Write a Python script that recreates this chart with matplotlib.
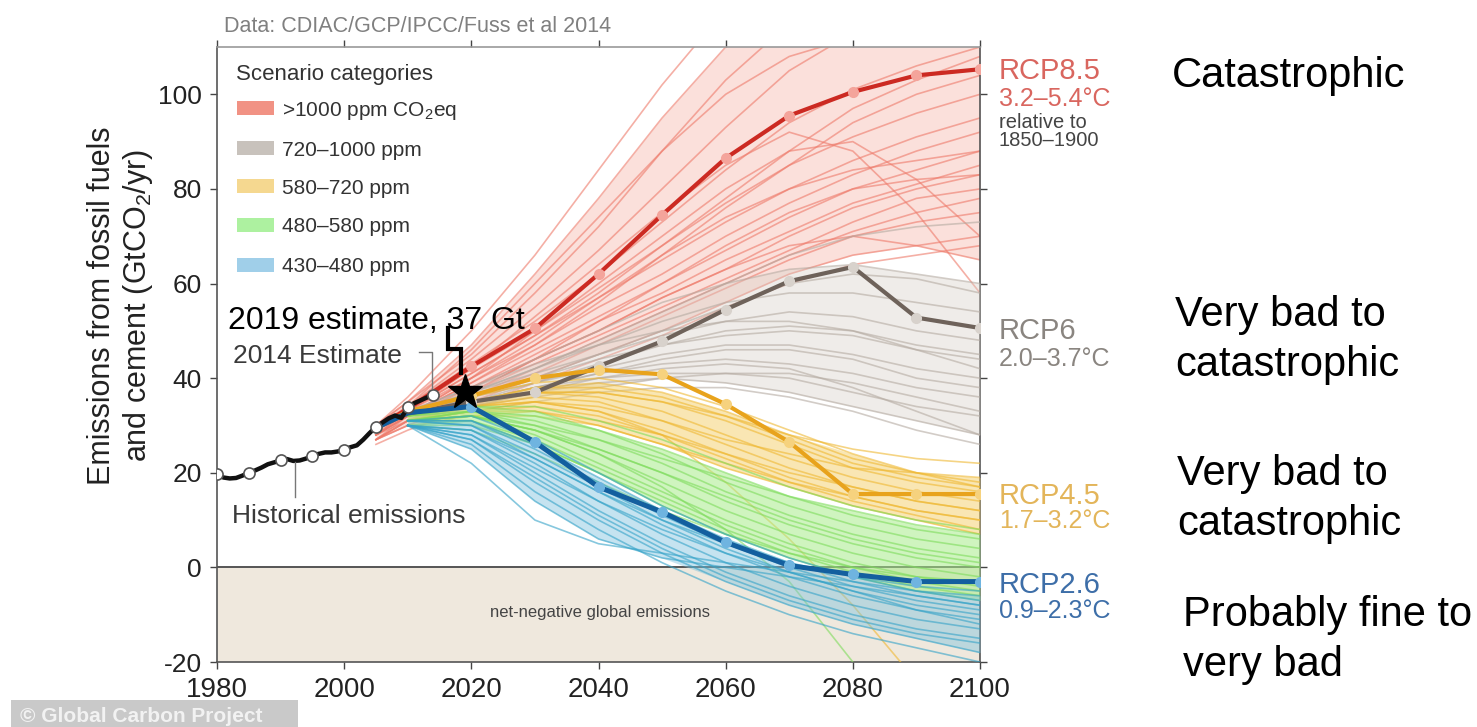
import numpy as np
import matplotlib
matplotlib.use("Agg")
import matplotlib.pyplot as plt
from matplotlib.patches import Rectangle

plt.rcParams['font.family'] = ['Liberation Sans', 'DejaVu Sans']
plt.rcParams['mathtext.fontset'] = 'custom'
plt.rcParams['mathtext.rm'] = 'Liberation Sans'
plt.rcParams['mathtext.it'] = 'Liberation Sans:italic'
plt.rcParams['mathtext.bf'] = 'Liberation Sans:bold'
plt.rcParams['axes.unicode_minus'] = False

W, H = 1477, 727

# ---- historical fossil + cement emissions (GtCO2/yr) ----
hist_years = list(range(1980, 2015))
hist_values = [19.8, 19.0, 18.8, 18.9, 19.4, 20.0, 20.5, 21.1, 21.8, 22.2,
               22.6, 22.9, 22.5, 22.6, 23.0, 23.6, 24.0, 24.3, 24.3, 24.5,
               24.9, 25.4, 25.8, 27.0, 28.4, 29.7, 30.6, 31.5, 32.1, 31.6,
               33.8, 34.7, 35.3, 35.9, 36.5]
hist_marker_years = [1980, 1985, 1990, 1995, 2000, 2005, 2010, 2014]

# ---- representative concentration pathways ----
rcp_years = [2005, 2010, 2020, 2030, 2040, 2050, 2060, 2070, 2080, 2090, 2100]
rcp85 = [29.5, 33.5, 42.5, 50.5, 62.0, 74.5, 86.5, 95.5, 100.5, 104.0, 105.3]
rcp60 = [29.5, 32.5, 35.0, 37.0, 42.5, 47.8, 54.5, 60.5, 63.5, 52.8, 50.6]
rcp45 = [29.5, 33.0, 36.3, 40.0, 41.8, 40.8, 34.5, 26.5, 15.5, 15.5, 15.5]
rcp26 = [29.5, 32.7, 34.0, 26.5, 17.0, 11.7, 5.3, 0.4, -1.5, -3.0, -3.0]

# ---- scenario ensembles by 2100 concentration category ----
red_years = [2005, 2010, 2020, 2030, 2040, 2050, 2060, 2070, 2080, 2090, 2100]
red_scenarios = [
    [30, 35, 47, 62, 78, 95, 110, 125, 135, 140, 145],
    [30, 35, 45, 58, 72, 88, 103, 115, 125, 132, 138],
    [29, 34, 44, 55, 67, 80, 93, 105, 113, 118, 122],
    [29, 34, 43, 52, 62, 73, 84, 94, 101, 106, 110],
    [29, 33, 42, 50, 59, 68, 77, 85, 91, 96, 100],
    [28, 33, 41, 49, 57, 65, 73, 80, 86, 91, 95],
    [28, 33, 40, 47, 55, 62, 70, 77, 83, 88, 92],
    [28, 32, 39, 46, 53, 60, 67, 74, 80, 84, 88],
    [28, 32, 38, 45, 52, 58, 65, 71, 77, 81, 85],
    [27, 32, 38, 44, 50, 57, 63, 70, 76, 80, 83],
    [27, 31, 37, 43, 49, 55, 61, 67, 73, 78, 80],
    [27, 31, 36, 42, 48, 54, 60, 66, 71, 75, 78],
    [27, 30, 36, 41, 47, 53, 59, 65, 70, 73, 75],
    [28, 31, 37, 44, 52, 60, 68, 75, 80, 82, 83],
    [29, 32, 40, 50, 60, 70, 80, 88, 90, 82, 70],
    [29, 33, 42, 53, 64, 75, 85, 92, 88, 75, 58],
    [27, 30, 35, 40, 45, 50, 56, 62, 66, 68, 70],
    [27, 31, 37, 44, 50, 57, 63, 68, 70, 68, 65],
    [28, 32, 39, 47, 56, 66, 76, 85, 94, 100, 104],
    [30, 34, 46, 60, 74, 88, 100, 108, 112, 115, 117],
    [26, 29, 34, 39, 44, 49, 55, 60, 64, 66, 68],
    [29, 33, 41, 49, 58, 68, 78, 88, 97, 103, 108],
    [30, 36, 50, 66, 84, 102, 118, 130, 138, 142, 145],
    [28, 32, 40, 48, 57, 66, 74, 80, 84, 86, 88],
]

scen_years = [2010, 2020, 2030, 2040, 2050, 2060, 2070, 2080, 2090, 2100]
gray_scenarios = [
    [33, 38, 44, 50, 56, 60, 63, 64, 62, 60],
    [33, 37, 42, 47, 52, 56, 58, 58, 56, 54],
    [32, 37, 41, 45, 49, 52, 54, 53, 50, 48],
    [32, 36, 40, 44, 47, 49, 50, 49, 46, 44],
    [32, 36, 39, 42, 45, 47, 47, 45, 42, 40],
    [31, 35, 38, 41, 43, 44, 43, 41, 38, 36],
    [31, 35, 38, 40, 41, 41, 40, 37, 34, 32],
    [31, 34, 37, 39, 40, 39, 37, 34, 31, 28],
    [32, 37, 42, 48, 54, 60, 66, 70, 72, 73],
    [33, 38, 43, 47, 50, 52, 52, 50, 46, 42],
    [31, 35, 39, 43, 47, 50, 51, 50, 47, 45],
    [31, 34, 36, 38, 40, 41, 41, 39, 36, 33],
    [32, 36, 40, 45, 50, 55, 60, 62, 61, 58],
    [31, 34, 37, 40, 42, 43, 42, 38, 33, 28],
    [32, 35, 38, 41, 44, 46, 46, 44, 40, 38],
    [31, 33, 35, 37, 38, 38, 36, 33, 29, 26],
]
orange_scenarios = [
    [33, 36, 39, 40, 38, 34, 29, 24, 20, 18],
    [32, 35, 37, 37, 35, 31, 26, 21, 18, 16],
    [32, 35, 37, 36, 33, 28, 23, 19, 16, 14],
    [32, 34, 36, 35, 31, 26, 21, 17, 14, 12],
    [31, 34, 35, 33, 29, 24, 19, 15, 12, 10],
    [31, 33, 34, 32, 28, 23, 18, 14, 11, 8],
    [31, 33, 33, 30, 26, 21, 17, 13, 10, 7],
    [32, 35, 38, 39, 37, 33, 28, 23, 20, 17],
    [32, 35, 37, 37, 35, 32, 28, 25, 23, 22],
    [31, 33, 35, 34, 31, 27, 24, 21, 20, 19],
    [32, 34, 35, 33, 28, 18, 6, -8, -24, -40],
    [31, 32, 33, 31, 28, 24, 20, 17, 14, 12],
    [30, 32, 32, 30, 26, 22, 18, 15, 12, 10],
    [32, 35, 38, 38, 36, 32, 27, 22, 19, 17],
]
green_scenarios = [
    [32, 34, 33, 29, 24, 18, 13, 9, 6, 4],
    [32, 33, 31, 27, 22, 16, 11, 7, 4, 2],
    [31, 33, 30, 25, 20, 14, 9, 5, 2, 0],
    [31, 32, 29, 24, 18, 12, 7, 3, 0, -2],
    [31, 32, 28, 22, 16, 10, 5, 1, -2, -4],
    [31, 31, 27, 21, 15, 9, 4, 0, -3, -5],
    [30, 31, 26, 20, 13, 7, 2, -2, -5, -7],
    [32, 34, 34, 31, 27, 22, 17, 13, 10, 8],
    [31, 32, 30, 27, 23, 19, 15, 12, 9, 7],
    [31, 32, 29, 24, 17, 8, -3, -20, -35, -50],
    [31, 32, 29, 25, 20, 15, 10, 6, 3, 1],
    [30, 30, 26, 20, 14, 8, 3, -1, -4, -6],
    [31, 33, 32, 29, 25, 20, 15, 11, 8, 6],
    [30, 29, 24, 18, 12, 7, 3, 0, -2, -3],
]
blue_scenarios = [
    [31, 31, 25, 18, 11, 5, 0, -4, -7, -9],
    [31, 30, 23, 16, 9, 3, -2, -6, -9, -11],
    [30, 29, 22, 14, 7, 1, -4, -8, -11, -13],
    [30, 28, 20, 12, 5, -1, -6, -10, -13, -15],
    [30, 27, 18, 10, 3, -3, -8, -12, -15, -18],
    [30, 26, 16, 8, 1, -5, -10, -14, -17, -20],
    [31, 32, 27, 20, 13, 7, 2, -2, -5, -7],
    [31, 31, 26, 19, 12, 6, 1, -3, -6, -8],
    [30, 28, 21, 14, 8, 3, -1, -5, -9, -12],
    [30, 25, 14, 6, 2, 0, -2, -4, -6, -8],
    [30, 22, 10, 5, 3, 1, -1, -3, -5, -6],
    [31, 30, 24, 17, 10, 4, -1, -5, -8, -10],
    [30, 27, 19, 11, 4, -2, -7, -11, -14, -16],
    [30, 29, 23, 16, 10, 5, 1, -2, -4, -5],
]

categories = [">1000 ppm CO$_2$eq", "720–1000 ppm", "580–720 ppm",
              "480–580 ppm", "430–480 ppm"]
x_ticks = [1980, 2000, 2020, 2040, 2060, 2080, 2100]
y_ticks = [-20, 0, 20, 40, 60, 80, 100]


def px(x, y):
    """pixel position -> figure fraction"""
    return x / W, 1 - y / H


fig = plt.figure(figsize=(W / 100, H / 100), dpi=100)
ax = fig.add_axes([217 / W, 1 - 662 / H, (980 - 217) / W, (662 - 47) / H])
ax.set_xlim(1980, 2100)
ax.set_ylim(-20, 110)

# net-negative zone
ax.axhspan(-20, 0, color='#efe8dd', zorder=0, lw=0)
ax.axhline(0, color='#555555', lw=1.4, zorder=1)
ax.text(2040.2, -9.5, "net-negative global emissions", ha='center', va='center',
        fontsize=12, color='#444444', zorder=2)

# scenario bundles: shaded core (second-lowest to second-highest run) plus runs
bundles = [
    (red_years, red_scenarios, '#ee7a6a', '#f5a898', 0.35),
    (scen_years, gray_scenarios, '#b5aba2', '#d9d1c9', 0.40),
    (scen_years, orange_scenarios, '#efb832', '#f4cf68', 0.50),
    (scen_years, green_scenarios, '#7edc5c', '#a9ec8c', 0.55),
    (scen_years, blue_scenarios, '#35a3c8', '#7fc3de', 0.45),
]
for i, (yrs, runs, lc, fc, fa) in enumerate(bundles):
    srt = np.sort(np.array(runs, dtype=float), axis=0)
    ax.fill_between(yrs, srt[1], srt[-2], color=fc, alpha=fa, lw=0,
                    zorder=2 + i)
    for run in runs:
        ax.plot(yrs, run, color=lc, lw=1.2, alpha=0.6, zorder=2 + i)

# RCP pathways
rcps = [
    (rcp85, '#cc2a22', '#f4a49b', 3.0),
    (rcp60, '#6e625a', '#d8d2cc', 3.0),
    (rcp45, '#e8a31c', '#f6d27e', 3.0),
    (rcp26, '#135f9f', '#6fb4e0', 3.6),
]
for vals, lc, mc, lw in rcps:
    ax.plot(rcp_years, vals, color=lc, lw=lw, zorder=10,
            marker='o', markersize=7, markerfacecolor=mc, markeredgecolor=mc,
            markevery=list(range(2, len(rcp_years))))

# historical record
ax.plot(hist_years, hist_values, color='#111111', lw=3.2, zorder=12,
        marker='o', markersize=8, markerfacecolor='white',
        markeredgecolor='#555555', markeredgewidth=1.2,
        markevery=[hist_years.index(y) for y in hist_marker_years])

# 2019 estimate marker and bracket
ax.plot([2016.3, 2016.3, 2018.4, 2018.4], [50.6, 46.2, 46.2, 41.1],
        color='black', lw=3, zorder=13, solid_joinstyle='miter')
ax.plot([2019], [37], marker='*', markersize=26, color='black', zorder=14,
        linestyle='none')
ax.text(1981.8, 52.0, "2019 estimate, 37 Gt", fontsize=23, color='black',
        ha='left', va='center', zorder=15)

# 2014 estimate label with leader
ax.plot([2011.8, 2013.8, 2013.8], [45.6, 45.6, 38.0], color='#777777',
        lw=1.0, zorder=13)
ax.text(1982.5, 44.6, "2014 Estimate", fontsize=19, color='#3a3a3a',
        ha='left', va='center', zorder=15)

# historical label with leader
ax.plot([1992.3, 1992.3], [22.3, 14.9], color='#777777', lw=1.0, zorder=13)
ax.text(1982.3, 10.8, "Historical emissions", fontsize=19, color='#3a3a3a',
        ha='left', va='center', zorder=15)

# legend
leg_colors = ['#ee7766', '#bbb3ab', '#f3cf74', '#99ee88', '#88c4e4']
leg_rows = [108, 148, 186, 225, 265]
fig.text(*px(236, 72), "Scenario categories", fontsize=16, color='#333333',
         ha='left', va='center_baseline')
for lab, col, row in zip(categories, leg_colors, leg_rows):
    x0, y0 = px(237, row + 7)
    fig.patches.append(Rectangle((x0, y0), 37 / W, 14 / H, transform=fig.transFigure,
                                 facecolor=col, edgecolor='none', alpha=0.8))
    fig.text(*px(282, row), lab, fontsize=15, color='#333333', ha='left',
             va='center_baseline')

# RCP labels on the right
rcp_labels = [
    ("RCP8.5", 68, 21, '#d9665f'), ("3.2–5.4°C", 97, 18, '#d9665f'),
    ("relative to", 120, 14.5, '#444444'), ("1850–1900", 138, 14.5, '#444444'),
    ("RCP6", 328, 21, '#8a8580'), ("2.0–3.7°C", 356, 18, '#8a8580'),
    ("RCP4.5", 493, 21, '#e3b55a'), ("1.7–3.2°C", 519, 18, '#e3b55a'),
    ("RCP2.6", 582, 21, '#3d6ea8'), ("0.9–2.3°C", 609, 18, '#3d6ea8'),
]
for txt, yy, fs, col in rcp_labels:
    fig.text(*px(999, yy), txt, fontsize=fs, color=col, ha='left',
             va='center_baseline')

# verdicts
verdicts = [
    ("Catastrophic", 1172, 87),
    ("Very bad to", 1175, 326), ("catastrophic", 1175, 376),
    ("Very bad to", 1177, 485), ("catastrophic", 1177, 535),
    ("Probably fine to", 1183, 626), ("very bad", 1183, 676),
]
for txt, xx, yy in verdicts:
    fig.text(*px(xx, yy), txt, fontsize=30, color='black', ha='left',
             va='baseline')

# data source line
fig.text(*px(224, 24), "Data: CDIAC/GCP/IPCC/Fuss et al 2014", fontsize=15.5,
         color='#808080', ha='left', va='center_baseline')

# axes styling
ax.set_xticks(x_ticks)
ax.set_yticks(y_ticks)
ax.set_xticklabels([str(t) for t in x_ticks])
ax.set_yticklabels([str(t) for t in y_ticks])
ax.tick_params(direction='out', top=True, right=True, length=5, width=1.0,
               color='#444444', labelcolor='#222222')
ax.tick_params(axis='x', labelsize=20, pad=6)
ax.tick_params(axis='y', labelsize=19, pad=6)
for sp in ax.spines.values():
    sp.set_color('#555555')
    sp.set_linewidth(1.2)
ax.spines['top'].set_color('#999999')

ax.set_ylabel("Emissions from fossil fuels\nand cement (GtCO$_2$/yr)", fontsize=22,
              color='#222222', ha='center', va='center', linespacing=1.15)
ax.yaxis.set_label_coords(-0.126, 0.58)

# copyright strip
x0, y0 = px(11, 727)
fig.patches.append(Rectangle((x0, y0), 287 / W, 27 / H, transform=fig.transFigure,
                             facecolor='#c9c9c9', edgecolor='none'))
fig.text(*px(20, 714), "© Global Carbon Project", fontsize=15, fontweight='bold',
         color='#f2f2f2', ha='left', va='center_baseline')

fig.savefig("out.png", dpi=100)
